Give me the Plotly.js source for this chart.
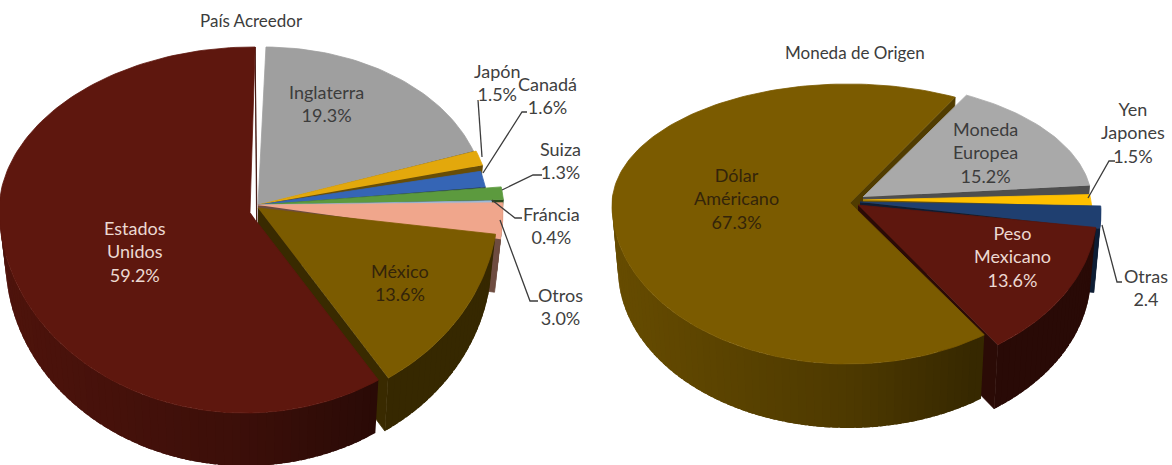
<!DOCTYPE html>
<html lang="es">
<head>
<meta charset="utf-8">
<title>País Acreedor y Moneda de Origen</title>
<script src="https://cdn.plot.ly/plotly-3.0.1.min.js"></script>
<style>html,body{margin:0;padding:0;background:#fff}#chart{width:1172px;height:465px}</style>
</head>
<body>
<div id="chart"></div>
<script>
// Deuda por país acreedor (porcentaje)
const paisCategories = ['Inglaterra', 'Japón', 'Canadá', 'Suiza', 'Fráncia', 'Otros', 'México', 'Estados Unidos'];
const paisValues = [19.3, 1.5, 1.6, 1.3, 0.4, 3.0, 13.6, 59.2];
const paisUnits = ['%', '%', '%', '%', '%', '%', '%', '%'];
const paisColors = ['#9f9f9f', '#e3a80c', '#3565b5', '#5c9a3e', '#9db9d8', '#f0a68c', '#7b5b00', '#5e170e'];
const paisTextColors = ['#3c3c3c', '#404040', '#404040', '#404040', '#404040', '#404040', '#33240a', '#ecd9d2'];

// Deuda por moneda de origen (porcentaje)
const monedaCategories = ['Moneda Europea', 'Yen Japones', 'Otras', 'Peso Mexicano', 'Dólar Américano'];
const monedaValues = [15.2, 1.5, 2.4, 13.6, 67.3];
const monedaUnits = ['%', '%', '', '%', '%'];
const monedaColors = ['#a9a9a9', '#ffc000', '#1f3f70', '#5e170e', '#7b5b00'];
const monedaTextColors = ['#3c3c3c', '#404040', '#404040', '#ecd9d2', '#33240a'];

// Trazado de cada rebanada: vértice, centro del arco y radios (atrás / adelante)
const paisShape = [
  {apex: [258, 205], arc: [258, 205], rx: 227, back: 158, front: 206, lean: 6},
  {apex: [258, 205], arc: [258, 205], rx: 232, back: 158, front: 206},
  {apex: [258, 205], arc: [258, 211], rx: 230, back: 158, front: 206},
  {apex: [258, 205], arc: [262, 211], rx: 242, back: 158, front: 206},
  {apex: [258, 205], arc: [258, 212], rx: 234, back: 158, front: 206},
  {apex: [258, 205], arc: [262, 210], rx: 241, back: 158, front: 206},
  {apex: [258, 208], arc: [258, 205], rx: 240, back: 158, front: 206},
  {apex: [257, 222], apexEnd: [250, 212], arc: [245, 207], rx: 246, back: 160, front: 206, lean: 8}
];
const monedaShape = [
  {apex: [863, 197], arc: [862, 203], rx: 230, back: 121, front: 164},
  {apex: [863, 200], arc: [862, 212], rx: 230, back: 121, front: 164},
  {apex: [860, 202], arc: [870, 212], rx: 231, back: 121, front: 164},
  {apex: [858, 205], arc: [862, 211], rx: 235, back: 121, front: 164},
  {apex: [850, 203], arc: [848, 205], rx: 236, back: 121, front: 159}
];

// Posición de cada rótulo (centro del bloque de texto)
const paisLabelAt = [[326, 103], [497, 82], [547, 95], [560, 160], [551, 225], [560, 306], [400, 282], [135, 251]];
const monedaLabelAt = [[985, 152], [1133, 132], [1146, 287], [1012, 256], [736, 198]];

// Líneas guía de los rótulos externos
const leaderLines = [
  [[478, 100], [482, 157]],
  [[527, 112], [522, 112], [483, 173]],
  [[542, 175], [533, 175], [502, 190]],
  [[522, 218], [515, 218], [492, 200]],
  [[538, 301], [530, 301], [500, 220]],
  [[1115, 161], [1109, 161], [1088, 198]],
  [[1122, 282], [1117, 282], [1102, 225]]
];

const traces = [];
const annotations = [];

function shade(hex, f) {
  const n = parseInt(hex.slice(1), 16);
  const c = [n >> 16, (n >> 8) & 255, n & 255].map(v => Math.round(v * f));
  return `rgb(${c[0]},${c[1]},${c[2]})`;
}

function polygon(pts, color, stroke) {
  traces.push({
    type: 'scatter', mode: 'lines', fill: 'toself', fillcolor: color,
    x: pts.map(p => p[0]), y: pts.map(p => p[1]),
    line: {color: color, width: stroke}, hoverinfo: 'skip', showlegend: false
  });
}

// Punto del borde de una rebanada para un ángulo en grados, medido desde las 12 en sentido horario
function rim(s, deg) {
  const t = deg * Math.PI / 180, sn = Math.sin(t), cs = Math.cos(t);
  const lean = (s.lean || 0) * Math.max(cs, 0);
  return [s.arc[0] + s.rx * sn + lean, s.arc[1] - cs * (cs > 0 ? s.back : s.front)];
}

// Proyección hacia la base del cilindro; las paredes convergen un poco
function lower(p, s, depth) {
  return [s.apex[0] + (p[0] - s.apex[0]) * 0.975, p[1] + depth];
}

function arcPoints(s, a, b) {
  const pts = [], n = Math.max(2, Math.ceil((b - a) / 1.5));
  for (let i = 0; i <= n; i++) pts.push(rim(s, a + (b - a) * i / n));
  return pts;
}

function cutWall(s, deg, color, depth, f) {
  const tip = rim(s, deg);
  polygon([s.apex, tip, lower(tip, s, depth), lower(s.apex, s, depth)], shade(color, f), 0.8);
}

// Sombra de la pared exterior: más clara a la izquierda, más oscura a la derecha
function wallShade(rad) {
  const sn = Math.sin(rad);
  return Math.max(0.44, sn > 0 ? 0.63 - 0.35 * sn : 0.63 - 0.2 * sn);
}

function drawPie(values, colors, shapes, rotation, depth) {
  const total = values.reduce((a, b) => a + b, 0);
  const ranges = [];
  let cum = rotation;
  values.forEach(v => { const next = cum + v / total * 360; ranges.push([cum, next]); cum = next; });

  const last = values.length - 1;
  if (rotation > 0) cutWall(shapes[last], ranges[last][1], colors[last], depth, 0.66);

  values.forEach((v, i) => {
    const s = shapes[i], [a, b] = ranges[i];
    // pared exterior por tramos cortos que se solapan; solo el frente del cilindro es visible
    const step = 2, n = Math.max(1, Math.ceil((b - a) / step));
    for (let k = 0; k < n; k++) {
      const a0 = a + (b - a) * k / n, a1 = a + (b - a) * (k + 1) / n;
      const mid = (a0 + a1) / 2 * Math.PI / 180;
      if (Math.cos(mid) > 0.06) continue;
      const top = arcPoints(s, a0, Math.min(b, a1 + 1.5));
      const bottom = top.map(p => lower(p, s, depth)).reverse();
      polygon(top.concat(bottom), shade(colors[i], wallShade(mid)), 0);
    }
    // corte visible del lado final de la rebanada
    if (i < last) cutWall(s, b, colors[i], depth, 0.46);
    const face = [s.apex].concat(arcPoints(s, a, b));
    if (s.apexEnd) face.push(s.apexEnd);
    polygon(face, colors[i], 0.8);
  });
}

function addLabels(categories, values, units, at, textColors) {
  categories.forEach((name, i) => {
    annotations.push({
      x: at[i][0], y: at[i][1], xref: 'x', yref: 'y', showarrow: false,
      xanchor: 'center', yanchor: 'middle', align: 'center',
      text: name.replace(' ', '<br>') + '<br>' + values[i].toFixed(1) + units[i],
      font: {family: 'Lato, sans-serif', size: 18, color: textColors[i]}
    });
  });
}

drawPie(paisValues, paisColors, paisShape, 0.5, 53);
drawPie(monedaValues, monedaColors, monedaShape, 27, 64);

leaderLines.forEach(line => traces.push({
  type: 'scatter', mode: 'lines',
  x: line.map(p => p[0]), y: line.map(p => p[1]),
  line: {color: '#3c3c3c', width: 1.3}, hoverinfo: 'skip', showlegend: false
}));

addLabels(paisCategories, paisValues, paisUnits, paisLabelAt, paisTextColors);
addLabels(monedaCategories, monedaValues, monedaUnits, monedaLabelAt, monedaTextColors);

[['País Acreedor', 251, 20], ['Moneda de Origen', 855, 52]].forEach(([text, x, y]) => annotations.push({
  x, y, xref: 'x', yref: 'y', showarrow: false, text,
  font: {family: 'Lato, sans-serif', size: 17, color: '#3c3c3c'}
}));

Plotly.newPlot('chart', traces, {
  width: 1172, height: 465,
  margin: {l: 0, r: 0, t: 0, b: 0},
  paper_bgcolor: '#ffffff', plot_bgcolor: '#ffffff',
  showlegend: false,
  xaxis: {range: [0, 1172], visible: false, fixedrange: true},
  yaxis: {range: [465, 0], visible: false, fixedrange: true},
  annotations
}, {displayModeBar: false, staticPlot: true});
</script>
</body>
</html>
